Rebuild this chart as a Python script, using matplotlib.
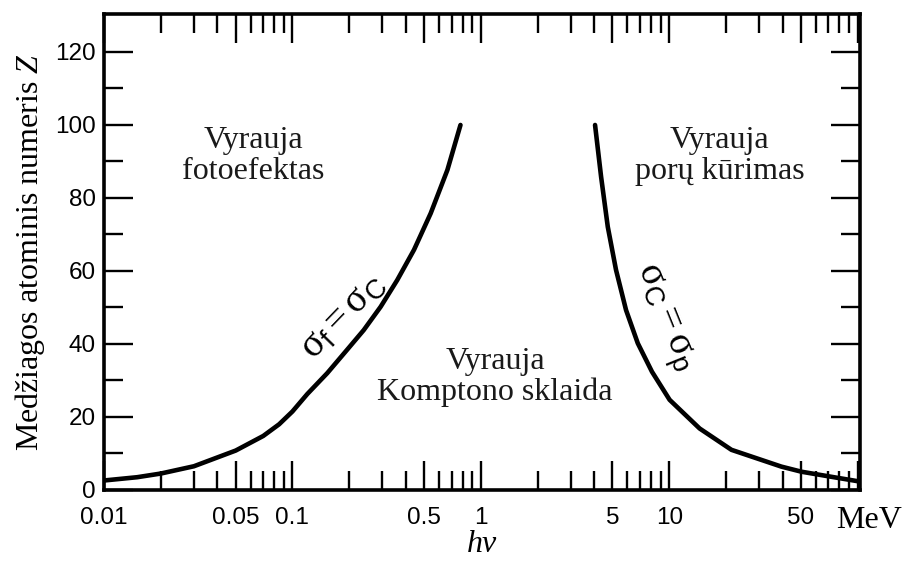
import matplotlib
matplotlib.use('Agg')
import matplotlib.pyplot as plt
from matplotlib.ticker import FixedLocator, NullFormatter

plt.rcParams['font.family'] = ['Liberation Serif', 'DejaVu Serif']
plt.rcParams['mathtext.fontset'] = 'custom'
plt.rcParams['mathtext.rm'] = 'Liberation Serif'
plt.rcParams['mathtext.sf'] = 'Liberation Sans'
plt.rcParams['mathtext.it'] = 'Liberation Serif:italic'
plt.rcParams['mathtext.bf'] = 'Liberation Serif:bold'

# sigma_f = sigma_C (photo effect / Compton boundary)
E_fc = [0.01, 0.015, 0.02, 0.03, 0.05, 0.07, 0.085, 0.1, 0.12, 0.153, 0.195, 0.239,
        0.294, 0.36, 0.442, 0.542, 0.665, 0.78]
Z_fc = [2.6, 3.5, 4.5, 6.5, 10.8, 14.8, 18.0, 21.5, 26.3, 32.0, 38.4, 43.8,
        50.2, 57.5, 65.8, 75.8, 87.7, 100.0]

# sigma_C = sigma_p (Compton / pair production boundary)
E_cp = [4.04, 4.35, 4.72, 5.22, 5.9, 6.81, 8.1, 10.05, 14.5, 21.4, 39.4, 50.4, 72.8, 103.0]
Z_cp = [100.0, 85.8, 72.1, 60.3, 49.3, 40.2, 32.4, 24.7, 16.85, 11.0, 6.4, 5.0, 3.6, 2.3]

x_ticks = [0.01, 0.05, 0.1, 0.5, 1, 5, 10, 50, 100]
x_labels = ['0.01', '0.05', '0.1', '0.5', '1', '5', '10', '50', '']
y_ticks = [0, 20, 40, 60, 80, 100, 120]
y_minor = [10, 30, 50, 70, 90, 110]

regions = ['Vyrauja\nfotoefektas', 'Vyrauja\nporų kūrimas', 'Vyrauja\nKomptono sklaida']
region_pos = [(0.062, 91.5), (18.5, 91.5), (1.19, 31)]

fig = plt.figure(figsize=(9.03, 5.63), dpi=100)
ax = fig.add_axes([0.1152, 0.1297, 0.8372, 0.8454])

ax.plot(E_fc, Z_fc, color='black', lw=3.3, solid_capstyle='round', solid_joinstyle='round')
ax.plot(E_cp, Z_cp, color='black', lw=3.3, solid_capstyle='round', solid_joinstyle='round')

ax.set_xscale('log')
ax.set_xlim(0.01, 103)
ax.set_ylim(0, 130.4)

ax.set_xticks(x_ticks)
ax.set_xticklabels(x_labels)
minor_x = [m * 10.0 ** k for k in range(-2, 2) for m in (2, 3, 4, 6, 7, 8, 9)]
ax.xaxis.set_minor_locator(FixedLocator(minor_x))
ax.xaxis.set_minor_formatter(NullFormatter())
ax.set_yticks(y_ticks)
ax.yaxis.set_minor_locator(FixedLocator(y_minor))

ax.tick_params(which='both', direction='in', top=True, right=True, width=1.7, color='black')
ax.tick_params(which='major', length=21)
ax.tick_params(which='minor', length=14)
ax.tick_params(axis='x', which='major', pad=12)
ax.tick_params(axis='y', which='major', pad=6)
for lab in ax.get_xticklabels() + ax.get_yticklabels():
    lab.set_family('Liberation Sans')
    lab.set_fontsize(17.5)

for s in ax.spines.values():
    s.set_linewidth(2.6)

ax.set_ylabel('Medžiagos atominis numeris $Z$', fontsize=23, labelpad=6)
ax.set_xlabel('hν', fontsize=23, fontstyle='italic', labelpad=1)
ax.annotate('MeV', xy=(1, 0), xycoords='axes fraction', xytext=(6.5, -27.4),
            textcoords='offset points', ha='center', va='baseline', fontsize=23)

for txt, (ex, zy) in zip(regions, region_pos):
    ax.text(ex, zy, txt, ha='center', va='center', fontsize=23, linespacing=1.05, color='#1a1a1a')

ax.text(0.185, 47.5, r'$\mathrm{σ}_{\mathsf{f}} = \mathrm{σ}_{\mathsf{C}}$',
        rotation=46, ha='center', va='center', fontsize=28, rotation_mode='anchor')
ax.text(9.2, 47.1, r'$\mathrm{σ}_{\mathsf{C}} = \mathrm{σ}_{\mathsf{p}}$',
        rotation=-68, ha='center', va='center', fontsize=28, rotation_mode='anchor')

plt.savefig('out.png', dpi=100)
